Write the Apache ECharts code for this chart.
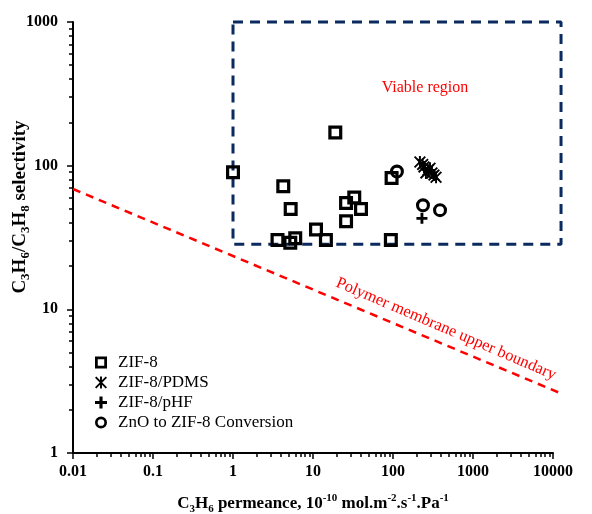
<!DOCTYPE html>
<html><head><meta charset="utf-8">
<script src="https://cdn.jsdelivr.net/npm/echarts@6/dist/echarts.min.js"></script>
<style>html,body{margin:0;padding:0;background:#fff}#c{width:592px;height:514px}</style>
</head><body><div id="c"></div>
<script>
// ---- data ----
const xTickLabels = ['0.01','0.1','1','10','100','1000','10000'];
const yTickLabels = ['1','10','100','1000'];
const seriesNames = ['ZIF-8','ZIF-8/PDMS','ZIF-8/pHF','ZnO to ZIF-8 Conversion'];
const zif8 = [[1.0,90],[19,170],[4.25,72],[5.26,50],[3.6,30.4],[5.2,29.1],[6.0,31.2],[10.9,36],[14.5,30.4],[25.9,55],[32.8,60],[39.8,50],[25.9,41],[96,82],[94,30.4]];
const zifPDMS = [[217,106],[235,102],[244,98],[274,93],[290,96],[307,89],[325,86],[345,83],[258,89]];
const zifPHF = [[230,43]];
const znoConv = [[112,91],[237,53],[387,49]];
const boundaryX = [0.01, 12960];
const boundaryY = [68.8, 2.58];
const boxX = [1, 12600, 12600, 1, 1];
const boxY = [1000, 1000, 28.4, 28.4, 1000];

// ---- symbols ----
const SYM_SQUARE = 'path://M0,0H10V10H0Z M2.3,2.3V7.7H7.7V2.3Z';
const SYM_CIRCLE = 'path://M7,0A7,7 0 1,1 7,14A7,7 0 1,1 7,0Z M7,3.1A3.9,3.9 0 1,0 7,10.9A3.9,3.9 0 1,0 7,3.1Z';
const SYM_STAR = 'path://M4.2,0H5.8V10H4.2Z M0,1.1L1.1,0L10,8.9L8.9,10Z M8.9,0L10,1.1L1.1,10L0,8.9Z';
const SYM_PLUS = 'path://M3.7,0H6.3V3.7H10V6.3H6.3V10H3.7V6.3H0V3.7H3.7Z';

const serif = '"Liberation Serif", "Times New Roman", serif';
const chart = echarts.init(document.getElementById('c'), null, {renderer:'canvas'});

function fmt(labels){
  return function(v){
    const l = Math.round(Math.log10(v));
    for (const s of labels){ if (Math.round(Math.log10(parseFloat(s))) === l) return s; }
    return '';
  };
}
function pairs(xs, ys){ return xs.map((x,i)=>[x, ys[i]]); }

const scatterBase = {type:'scatter', itemStyle:{color:'#000', borderWidth:0, opacity:1}, emphasis:{disabled:true}, z:5};
const decadePx = 80; // x pixels per decade on the main grid
const extraPx = 12;  // overlay grid reaches past the axis end (shapes drawn past it)

chart.setOption({
  animation:false,
  backgroundColor:'#fff',
  textStyle:{fontFamily:serif},
  grid:[
    {left:73, top:22, width:480, height:431, containLabel:false, outerBoundsMode:'none'},
    {left:73, top:22, width:480+extraPx, height:431, containLabel:false, outerBoundsMode:'none'}
  ],
  xAxis:[{
    type:'log', logBase:10, min:0.01, max:10000, gridIndex:0,
    axisLine:{show:true, lineStyle:{color:'#000', width:2}},
    axisTick:{show:true, inside:false, length:6, lineStyle:{color:'#000', width:1.5}},
    minorTick:{show:true, splitNumber:9, length:4, lineStyle:{color:'#000', width:1.5}},
    splitLine:{show:false},
    axisLabel:{formatter:fmt(xTickLabels), color:'#000', fontFamily:serif, fontWeight:'bold', fontSize:16, margin:11},
    name:'{b|C}{s|3}{b|H}{s|6}{b| permeance, 10}{p|-10}{b| mol.m}{p|-2}{b|.s}{p|-1}{b|.Pa}{p|-1}',
    nameLocation:'middle', nameGap:40,
    nameTextStyle:{rich:{
      b:{fontFamily:serif, fontWeight:'bold', fontSize:17, lineHeight:22, color:'#000'},
      s:{fontFamily:serif, fontWeight:'bold', fontSize:11, lineHeight:11, verticalAlign:'bottom', color:'#000'},
      p:{fontFamily:serif, fontWeight:'bold', fontSize:11, lineHeight:11, verticalAlign:'top', color:'#000'}
    }}
  },{
    type:'log', logBase:10, min:0.01, max:Math.pow(10, 4 + extraPx/decadePx), gridIndex:1, show:false
  }],
  yAxis:[{
    type:'log', logBase:10, min:1, max:1000, gridIndex:0,
    axisLine:{show:true, lineStyle:{color:'#000', width:2}},
    axisTick:{show:true, inside:false, length:6, lineStyle:{color:'#000', width:1.5}},
    minorTick:{show:true, splitNumber:9, length:4, lineStyle:{color:'#000', width:1.5}},
    splitLine:{show:false},
    axisLabel:{formatter:fmt(yTickLabels), color:'#000', fontFamily:serif, fontWeight:'bold', fontSize:16, margin:15}
  },{
    type:'log', logBase:10, min:1, max:1000, gridIndex:1, show:false
  }],
  legend:{
    orient:'vertical', left:90, top:349, itemWidth:24, itemHeight:12, itemGap:3,
    data:seriesNames, selectedMode:false,
    textStyle:{fontFamily:serif, fontSize:17, color:'#000'}
  },
  graphic:[
    {type:'text', x:20, y:207, rotation:Math.PI/2, style:{
      text:'{b|C}{s|3}{b|H}{s|6}{b|/C}{s|3}{b|H}{s|8}{b| selectivity}',
      align:'center', verticalAlign:'middle',
      rich:{
        b:{fontFamily:serif, fontWeight:'bold', fontSize:19, lineHeight:24, fill:'#000'},
        s:{fontFamily:serif, fontWeight:'bold', fontSize:13, lineHeight:13, verticalAlign:'bottom', fill:'#000'}
      }}},
    {type:'text', x:425, y:88, style:{text:'Viable region', fill:'#ff0000', font:'16px '+serif, align:'center', verticalAlign:'middle'}},
    {type:'text', x:446, y:329, rotation:-0.405, style:{text:'Polymer membrane upper boundary', fill:'#ff0000', font:'16.5px '+serif, align:'center', verticalAlign:'middle'}}
  ],
  series:[
    {type:'line', name:'box', xAxisIndex:1, yAxisIndex:1, data:pairs(boxX, boxY), symbol:'none', clip:false, silent:true,
     lineStyle:{color:'#0b2a60', width:3, type:[10,7]}, z:2},
    {type:'line', name:'boundary', xAxisIndex:1, yAxisIndex:1, data:pairs(boundaryX, boundaryY), symbol:'none', clip:false, silent:true,
     lineStyle:{color:'#ff0000', width:2.5, type:[8,6]}, z:2},
    Object.assign({}, scatterBase, {name:seriesNames[0], data:zif8, symbol:SYM_SQUARE, symbolSize:14}),
    Object.assign({}, scatterBase, {name:seriesNames[1], data:zifPDMS, symbol:SYM_STAR, symbolSize:12}),
    Object.assign({}, scatterBase, {name:seriesNames[2], data:zifPHF, symbol:SYM_PLUS, symbolSize:11}),
    Object.assign({}, scatterBase, {name:seriesNames[3], data:znoConv, symbol:SYM_CIRCLE, symbolSize:14})
  ]
});
</script></body></html>
